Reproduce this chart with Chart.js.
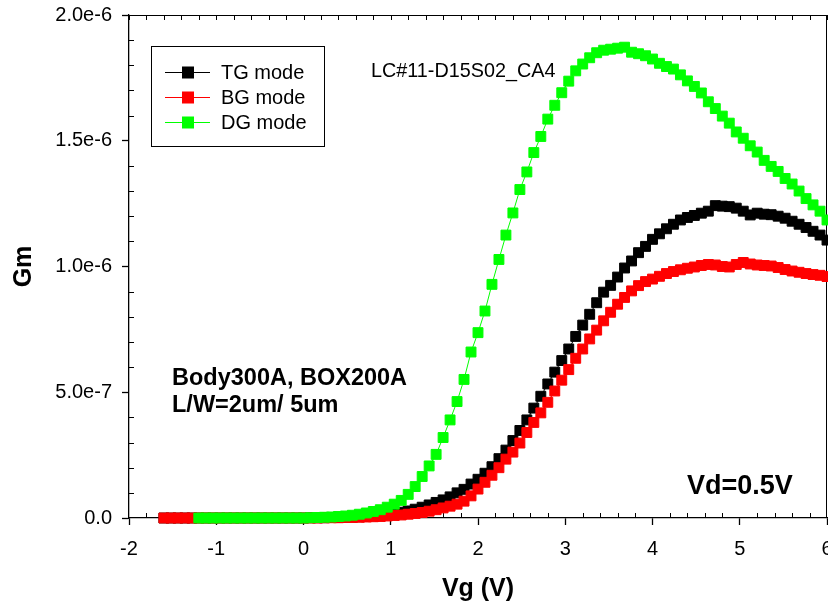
<!DOCTYPE html>
<html><head><meta charset="utf-8">
<script src="https://cdn.jsdelivr.net/npm/chart.js@4.4.0/dist/chart.umd.min.js"></script>
<style>html,body{margin:0;padding:0;background:#fff;overflow:hidden}#wrap{width:828px;height:613px;position:relative}</style>
</head><body><div id="wrap"><canvas id="c" width="828" height="613"></canvas></div>
<script>
// Gate voltage sweep (V)
const vg = [
-1.60,-1.52,-1.44,-1.36,-1.28,
-1.20,-1.12,-1.04,-0.96,-0.88,
-0.80,-0.72,-0.64,-0.56,-0.48,
-0.40,-0.32,-0.24,-0.16,-0.08,
0.00,0.08,0.16,0.24,0.32,
0.40,0.48,0.56,0.64,0.72,
0.80,0.88,0.96,1.04,1.12,
1.20,1.28,1.36,1.44,1.52,
1.60,1.68,1.76,1.84,1.92,
2.00,2.08,2.16,2.24,2.32,
2.40,2.48,2.56,2.64,2.72,
2.80,2.88,2.96,3.04,3.12,
3.20,3.28,3.36,3.44,3.52,
3.60,3.68,3.76,3.84,3.92,
4.00,4.08,4.16,4.24,4.32,
4.40,4.48,4.56,4.64,4.72,
4.80,4.88,4.96,5.04,5.12,
5.20,5.28,5.36,5.44,5.52,
5.60,5.68,5.76,5.84,5.92,
6.00];
// Gm values in units of 1e-6
const gmTG = [
0,0,0,0,0,
0,0,0,0,0,
0,0,0,0,0,
0,0,0,0,0,
0,0.001,0.001,0.001,0.002,
0.002,0.003,0.004,0.005,0.006,
0.008,0.011,0.014,0.018,0.023,
0.028,0.035,0.043,0.052,0.062,
0.072,0.084,0.100,0.114,0.135,
0.154,0.178,0.204,0.236,0.270,
0.308,0.348,0.390,0.437,0.484,
0.533,0.580,0.626,0.672,0.722,
0.767,0.810,0.856,0.898,0.925,
0.958,0.994,1.022,1.055,1.080,
1.108,1.130,1.150,1.168,1.185,
1.195,1.203,1.212,1.220,1.242,
1.240,1.238,1.232,1.220,1.205,
1.212,1.208,1.206,1.200,1.192,
1.180,1.168,1.155,1.140,1.125,
1.105];
const gmBG = [
0,0,0,0,0,
0,0,0,0,0,
0,0,0,0,0,
0,0,0,0,0,
0,0,0,0.001,0.001,
0.001,0.002,0.002,0.003,0.004,
0.005,0.006,0.008,0.010,0.012,
0.015,0.018,0.022,0.027,0.033,
0.040,0.047,0.055,0.067,0.088,
0.115,0.142,0.170,0.200,0.234,
0.262,0.298,0.340,0.380,0.418,
0.460,0.505,0.548,0.590,0.635,
0.672,0.712,0.747,0.784,0.818,
0.850,0.877,0.903,0.924,0.940,
0.950,0.961,0.972,0.980,0.987,
0.993,0.998,1.004,1.008,1.006,
1.000,0.998,1.008,1.016,1.010,
1.006,1.004,1.002,0.996,0.988,
0.982,0.977,0.972,0.968,0.965,
0.960];
const gmDG = [
null,null,null,null,null,
0,0,0,0,0,
0,0,0,0,0,
0,0,0,0,0,
0,0.001,0.002,0.003,0.004,
0.006,0.008,0.011,0.015,0.020,
0.026,0.033,0.043,0.055,0.070,
0.094,0.125,0.165,0.207,0.253,
0.320,0.390,0.463,0.551,0.660,
0.737,0.823,0.929,1.028,1.125,
1.213,1.306,1.376,1.453,1.517,
1.586,1.641,1.691,1.737,1.778,
1.805,1.830,1.850,1.860,1.864,
1.868,1.872,1.852,1.846,1.838,
1.825,1.808,1.795,1.785,1.762,
1.738,1.716,1.690,1.655,1.628,
1.598,1.570,1.535,1.510,1.480,
1.455,1.422,1.398,1.378,1.350,
1.328,1.300,1.270,1.245,1.220,
1.185];
const UNIT = 1e-6;
const seriesNames = ['TG mode','BG mode','DG mode'];
const seriesColors = ['#000000','#ff0000','#00ff00'];
const xTickLabels = ['-2','-1','0','1','2','3','4','5','6'];
const yTickLabels = ['0.0','5.0e-7','1.0e-6','1.5e-6','2.0e-6'];

const FONT = "'Liberation Sans', Arial, sans-serif";
const toPts = arr => vg.map((x,i)=> arr[i]==null ? null : {x:x, y:arr[i]*UNIT}).filter(p=>p);

const series = [gmTG, gmBG, gmDG];
const datasets = series.map((arr,i)=>({
  label: seriesNames[i],
  data: toPts(arr),
  borderColor: seriesColors[i],
  backgroundColor: seriesColors[i],
  pointBackgroundColor: seriesColors[i],
  pointBorderColor: seriesColors[i],
  pointStyle: 'rect',
  pointRadius: 7,
  pointBorderWidth: 1,
  borderWidth: 1,
  tension: 0,
  clip: false,
  order: 3 - i
}));

const decor = {
  id: 'decor',
  beforeDatasetsDraw(chart){
    const {ctx, chartArea:a, scales:{x,y}} = chart;
    ctx.save();
    ctx.strokeStyle = '#000';
    ctx.lineWidth = 1;
    ctx.beginPath();
    ctx.moveTo(a.left, a.top+0.5); ctx.lineTo(a.right, a.top+0.5);
    ctx.moveTo(a.right-0.5, a.top); ctx.lineTo(a.right-0.5, a.bottom);
    ctx.stroke();
    ctx.beginPath();
    for (let k=0;k<=40;k++){
      const px = Math.round(x.getPixelForValue(-2 + k*0.2)) + 0.5;
      ctx.moveTo(px, a.top); ctx.lineTo(px, a.top+5);
      if (k%5!==0){ ctx.moveTo(px, a.bottom); ctx.lineTo(px, a.bottom-5); }
    }
    for (let k=1;k<20;k++){
      if (k%5===0) continue;
      const py = Math.round(y.getPixelForValue(k*1e-7)) + 0.5;
      ctx.moveTo(a.left, py); ctx.lineTo(a.left+5, py);
    }
    ctx.stroke();
    ctx.restore();
  },
  afterDraw(chart){
    const ctx = chart.ctx;
    ctx.save();
    ctx.fillStyle = '#fff';
    ctx.fillRect(151.5, 46.5, 173, 100);
    ctx.strokeStyle = '#000';
    ctx.lineWidth = 1;
    ctx.strokeRect(151.5, 46.5, 173, 100);
    const rows = [72, 97, 122];
    ctx.font = `20px ${FONT}`;
    ctx.textBaseline = 'middle';
    ctx.textAlign = 'left';
    rows.forEach((ry,i)=>{
      ctx.strokeStyle = seriesColors[i];
      ctx.beginPath(); ctx.moveTo(165, ry+0.5); ctx.lineTo(210, ry+0.5); ctx.stroke();
      ctx.fillStyle = seriesColors[i];
      ctx.fillRect(182, ry-5.5, 12, 12);
      ctx.fillStyle = '#000';
      ctx.fillText(seriesNames[i], 221, ry+1);
    });
    ctx.textBaseline = 'alphabetic';
    ctx.fillStyle = '#000';
    ctx.font = `19.8px ${FONT}`;
    ctx.fillText('LC#11-D15S02_CA4', 371, 77);
    ctx.font = `bold 23.5px ${FONT}`;
    ctx.fillText('Body300A, BOX200A', 172, 385);
    ctx.fillText('L/W=2um/ 5um', 172, 412);
    ctx.font = `bold 27px ${FONT}`;
    ctx.fillText('Vd=0.5V', 687, 494);
    ctx.restore();
  }
};

new Chart(document.getElementById('c'), {
  type: 'line',
  data: { datasets },
  options: {
    responsive: false,
    animation: false,
    devicePixelRatio: 1,
    layout: { autoPadding: false, padding: { top: 15, right: 1, left: 0, bottom: 0 } },
    plugins: { legend: { display: false }, tooltip: { enabled: false } },
    scales: {
      x: {
        type: 'linear', min: -2, max: 6,
        ticks: { stepSize: 1, color: '#000', padding: 12, font: { family: FONT, size: 20 },
          callback: (v) => xTickLabels[Math.round(v + 2)] },
        grid: { drawOnChartArea: false, drawTicks: true, tickLength: 7, color: '#000', tickWidth: 1.3 },
        border: { display: true, color: '#000', width: 1.3 },
        title: { display: true, text: 'Vg (V)', color: '#000', font: { family: FONT, size: 25, weight: 'bold' }, padding: { top: 0, bottom: 9 } },
        afterFit(s){ s.height = 95; s.paddingLeft = 0; s.paddingRight = 0; }
      },
      y: {
        type: 'linear', min: 0, max: 2e-6,
        ticks: { stepSize: 5e-7, color: '#000', padding: 10, font: { family: FONT, size: 20 },
          callback: (v) => yTickLabels[Math.round(v / 5e-7)] },
        grid: { drawOnChartArea: false, drawTicks: true, tickLength: 7, color: '#000', tickWidth: 1.3 },
        border: { display: true, color: '#000', width: 1.3 },
        title: { display: true, text: 'Gm', color: '#000', font: { family: FONT, size: 25, weight: 'bold' }, padding: { top: 9, bottom: 0 } },
        afterFit(s){ s.width = 129; s.paddingTop = 0; s.paddingBottom = 0; }
      }
    }
  },
  plugins: [decor]
});
</script>
</body></html>
